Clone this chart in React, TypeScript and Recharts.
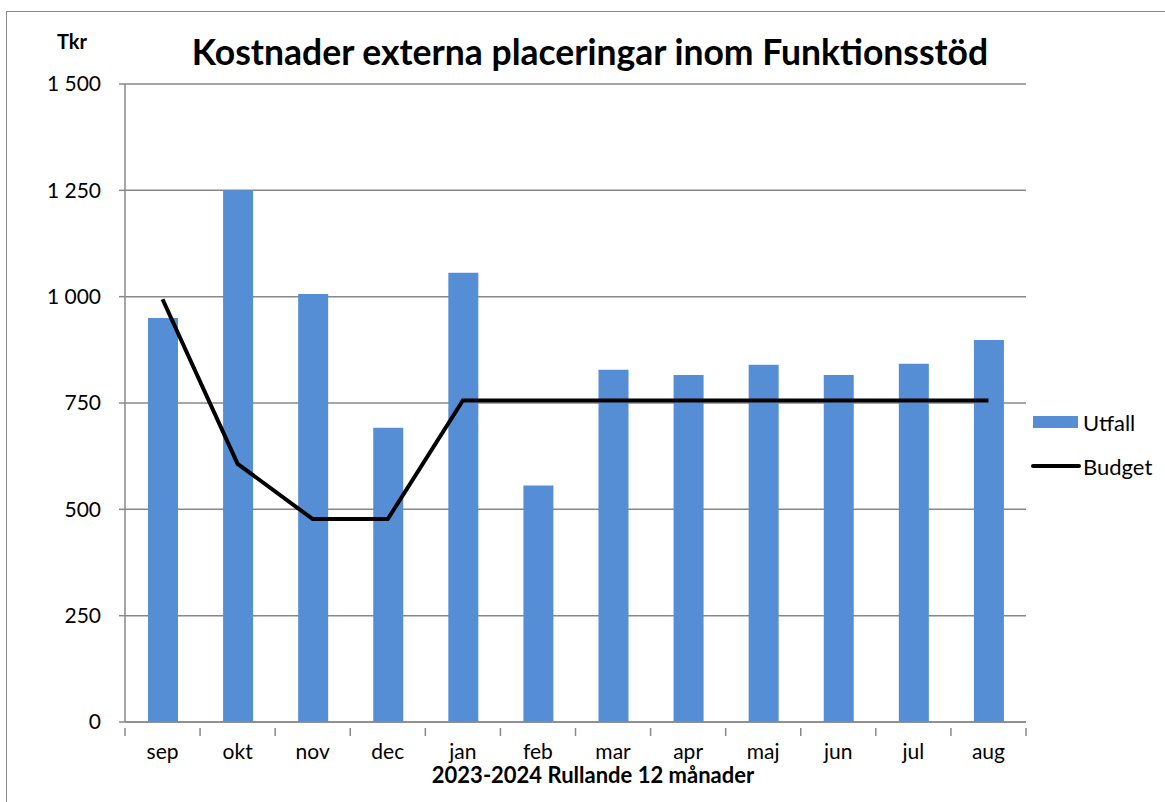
import React from 'react';
import { ComposedChart, Bar, Line, XAxis, YAxis, CartesianGrid } from 'recharts';

const months = ['sep', 'okt', 'nov', 'dec', 'jan', 'feb', 'mar', 'apr', 'maj', 'jun', 'jul', 'aug'];
const utfall = [950, 1250, 1006, 692, 1056, 556, 828, 816, 840, 816, 842, 898];
const budget = [994, 607, 477, 477, 756, 756, 756, 756, 756, 756, 756, 756];
const yTicks = [0, 250, 500, 750, 1000, 1250, 1500];

const data = months.map((m, i) => ({ month: m, Utfall: utfall[i], Budget: budget[i] }));

const FONT = 'Lato, "Open Sans", sans-serif';
const GRID = '#888888';
const TICK_MARGIN = 16;

const fmt = (v: number) => {
  const s = String(v);
  return s.length > 3 ? s.slice(0, s.length - 3) + ' ' + s.slice(-3) : s;
};

const MonthTick = (props: any) => {
  const { x, y, payload, index } = props;
  const half = payload && payload.offset ? payload.offset : 37.5;
  const axisY = y - TICK_MARGIN;
  return (
    <g>
      <line x1={x - half} x2={x - half} y1={axisY} y2={axisY + 8} stroke={GRID} strokeWidth={1.5} />
      {index === months.length - 1 && (
        <line x1={x + half} x2={x + half} y1={axisY} y2={axisY + 8} stroke={GRID} strokeWidth={1.5} />
      )}
      <text x={x} y={y} dy="0.71em" textAnchor="middle" fill="#000" fontSize={21} fontFamily={FONT}>
        {payload.value}
      </text>
    </g>
  );
};

export default function App() {
  return (
    <div style={{ position: 'absolute', left: 0, top: 0, width: 1165, height: 802, background: '#fff', overflow: 'hidden' }}>
      <div style={{ position: 'absolute', left: 6, top: 11, width: 1200, height: 850, border: '1.5px solid #8a8a8a', boxSizing: 'border-box' }} />
      <div style={{ position: 'absolute', left: 0, top: 30, width: 1180, textAlign: 'center', fontFamily: FONT, fontWeight: 'bold', fontSize: 35.5, color: '#000', lineHeight: '44px' }}>
        Kostnader externa placeringar inom Funktionsstöd
      </div>
      <div style={{ position: 'absolute', left: 57, top: 29, fontFamily: FONT, fontWeight: 'bold', fontSize: 20, color: '#000' }}>Tkr</div>
      <div style={{ position: 'absolute', left: 125, top: 762, width: 936, textAlign: 'center', fontFamily: FONT, fontWeight: 'bold', fontSize: 22, color: '#000', lineHeight: '26px' }}>
        2023-2024 Rullande 12 månader
      </div>
      <div style={{ position: 'absolute', left: 1031, top: 409, fontFamily: FONT, fontSize: 22, color: '#000' }}>
        <div style={{ display: 'flex', alignItems: 'center', height: 26, marginBottom: 18 }}>
          <div style={{ width: 45, height: 12, background: '#558ED5', marginRight: 5, marginLeft: 2 }} />
          <span>Utfall</span>
        </div>
        <div style={{ display: 'flex', alignItems: 'center', height: 26 }}>
          <div style={{ width: 50, height: 4, background: '#000', borderRadius: 2, marginRight: 2 }} />
          <span>Budget</span>
        </div>
      </div>
      <ComposedChart
        width={1165}
        height={802}
        data={data}
        margin={{ top: 84, right: 139, bottom: 0, left: 0 }}
        style={{ position: 'absolute', left: 0, top: 0 }}
      >
        <CartesianGrid vertical={false} stroke={GRID} strokeWidth={1.5} />
        <XAxis
          dataKey="month"
          axisLine={{ stroke: GRID, strokeWidth: 1.5 }}
          tickLine={false}
          tick={MonthTick}
          tickMargin={TICK_MARGIN}
          interval={0}
          height={80}
        />
        <YAxis
          domain={[0, 1500]}
          ticks={yTicks}
          width={125}
          tickFormatter={fmt}
          axisLine={{ stroke: GRID, strokeWidth: 1.5 }}
          tickLine={{ stroke: GRID, strokeWidth: 1.5 }}
          tickSize={6}
          tickMargin={18}
          tick={{ fill: '#000', fontSize: 21, fontFamily: FONT }}
          interval={0}
        />
        <Bar dataKey="Utfall" fill="#558ED5" barSize={30} isAnimationActive={false} />
        <Line dataKey="Budget" stroke="#000" strokeWidth={4} dot={false} type="linear" isAnimationActive={false} />
      </ComposedChart>
    </div>
  );
}
